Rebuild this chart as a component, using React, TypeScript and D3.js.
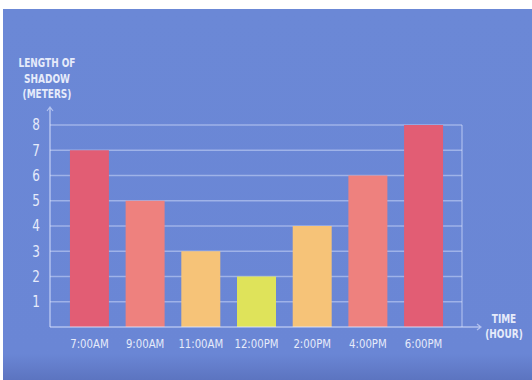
import * as d3 from "d3";

const times = ["7:00AM", "9:00AM", "11:00AM", "12:00PM", "2:00PM", "4:00PM", "6:00PM"];
const shadowLengths = [7, 5, 3, 2, 4, 6, 8];
const barColors = ["#e25d74", "#ee817e", "#f6c378", "#dfe35a", "#f6c378", "#ee817e", "#e25d74"];
const yTicks = [1, 2, 3, 4, 5, 6, 7, 8];
const yTitle = ["LENGTH OF", "SHADOW", "(METERS)"];
const xTitle = ["TIME", "(HOUR)"];

const W = 532;
const H = 380;
const font = "'DejaVu Sans', sans-serif";

// narrow text: the reference uses a condensed face
function Label({ x, y, size, bold, sx, children }: any) {
  return (
    <text transform={`translate(${x},${y}) scale(${sx},1)`} dy="0.35em" textAnchor="middle"
      fill="#e6ebfa" fontFamily={font} fontSize={size} fontWeight={bold ? "bold" : "normal"}>
      {children}
    </text>
  );
}

export default function App() {
  const x = d3.scaleBand<string>().domain(times).range([51, 462]).paddingInner(0.3).paddingOuter(0.34);
  const y = d3.scaleLinear().domain([0, 8]).range([327, 125]);
  const gridColor = "rgba(225,232,255,0.45)";
  const axisColor = "rgba(225,232,255,0.6)";

  return (
    <svg width={W} height={H} style={{ position: "absolute", left: 0, top: 0 }}>
      <defs>
        <linearGradient id="bg" x1="0" y1="0" x2="0" y2="1">
          <stop offset="0%" stopColor="#6b88d6" />
          <stop offset="93%" stopColor="#6a86d5" />
          <stop offset="100%" stopColor="#5c74c0" />
        </linearGradient>
      </defs>
      <rect x={3} y={9} width={W - 3} height={H - 9} fill="url(#bg)" />

      {/* grid */}
      {yTicks.map((t) => (
        <line key={t} x1={50} x2={462} y1={y(t)} y2={y(t)} stroke={gridColor} strokeWidth={1.5} />
      ))}
      <line x1={462} x2={462} y1={y(8)} y2={y(0)} stroke={gridColor} strokeWidth={1.5} />

      {/* bars */}
      {times.map((t, i) => (
        <rect
          key={t}
          x={x(t)}
          y={y(shadowLengths[i])}
          width={x.bandwidth()}
          height={y(0) - y(shadowLengths[i])}
          fill={barColors[i]}
        />
      ))}

      {/* axes */}
      <line x1={50} x2={50} y1={y(0)} y2={108} stroke={axisColor} strokeWidth={1.5} />
      <path d="M47,111 L50,107 L53,111" fill="none" stroke={axisColor} strokeWidth={1.2} />
      <line x1={50} x2={480} y1={y(0)} y2={y(0)} stroke={axisColor} strokeWidth={1.5} />
      <path d="M477,324 L481,327 L477,330" fill="none" stroke={axisColor} strokeWidth={1.2} />

      {yTicks.map((t) => (
        <Label key={t} x={36} y={y(t)} size={15} sx={0.8}>{t}</Label>
      ))}

      {times.map((t) => (
        <Label key={t} x={(x(t) ?? 0) + x.bandwidth() / 2} y={343} size={13} sx={0.78}>{t}</Label>
      ))}

      {yTitle.map((s, i) => (
        <Label key={s} x={47} y={63 + i * 15.5} size={11.5} bold sx={0.78}>{s}</Label>
      ))}
      {xTitle.map((s, i) => (
        <Label key={s} x={504} y={319 + i * 14.5} size={11.5} bold sx={0.78}>{s}</Label>
      ))}
    </svg>
  );
}
